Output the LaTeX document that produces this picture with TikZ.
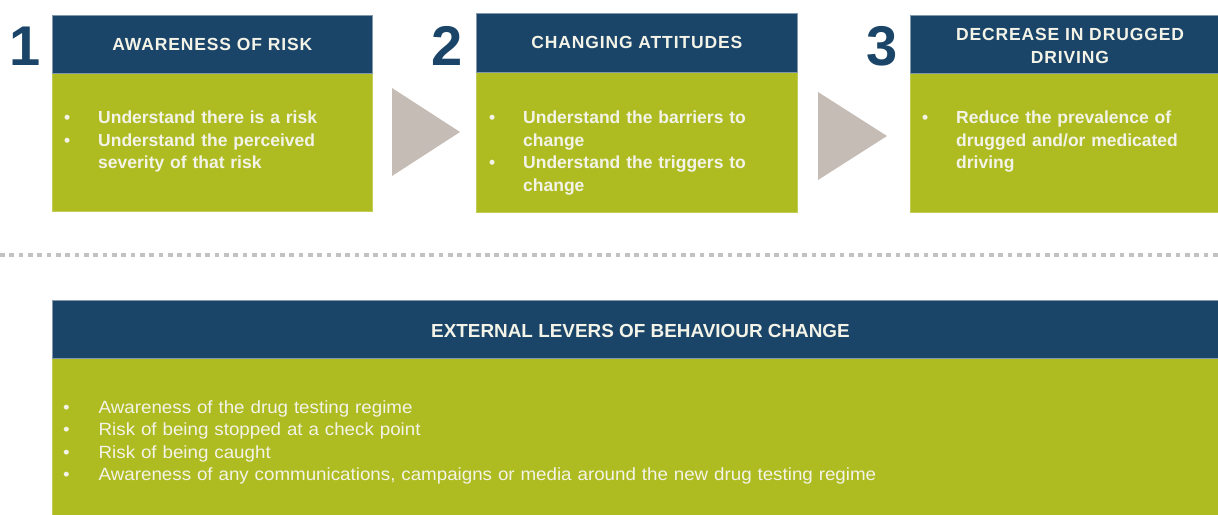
\documentclass[tikz,border=0pt]{standalone}
\usepackage{fontspec}
\setmainfont{Liberation Sans}
\newfontfamily\capsfont[LetterSpace=5]{Liberation Sans}
\newfontfamily\widefont[FakeStretch=1.06]{Liberation Sans}

\definecolor{navy}{HTML}{1B4568}
\definecolor{lime}{HTML}{AEBC21}
\definecolor{stone}{HTML}{C5BCB5}
\definecolor{ink}{HTML}{F3F3E8}
\definecolor{sepgray}{HTML}{C2C2C2}

% bullet item with a hanging indent; the rule fixes the first line's height
\newcommand\bitem[1]{\noindent\hangindent=#1\hangafter=1\rule{0pt}{14pt}\makebox[#1][l]{\hspace*{2pt}\textbullet}}

\tikzset{
  hdr/.style={fill=navy, draw=navy!55!white, line width=0.6pt, inner sep=0pt,
    anchor=north west, text=ink, align=center,
    font=\capsfont\bfseries\fontsize{17.5}{22.5}\selectfont},
  panel/.style={fill=lime, draw=lime!75!white, line width=0.6pt, inner sep=0pt,
    anchor=north west},
  bullets/.style={anchor=north west, inner sep=0pt, text=ink, text width=330pt,
    align=left, font=\bfseries\fontsize{17.5}{22.5}\selectfont},
  lightbullets/.style={bullets, text width=900pt,
    font=\widefont\fontsize{17.7}{22.4}\selectfont},
  num/.style={anchor=base, inner sep=0pt, text=navy,
    font=\bfseries\fontsize{56}{56}\selectfont},
  chevron/.style={fill=stone},
  seprule/.style={draw=sepgray, line width=3.2pt, dash pattern=on 4.7pt off 4.63pt},
}

\begin{document}
\begin{tikzpicture}[x=1pt, y=-1pt]
\useasboundingbox (0,0) rectangle (1218,514);
\clip (0,0) rectangle (1218,514);

% step numbers
\node[num] (n1) at (25,65) {1};
\node[num] (n2) at (447.5,65) {2};
\node[num] (n3) at (882,65) {3};

% step 1
\node[panel, minimum width=320pt, minimum height=138pt] (b1) at (52,73) {};
\node[hdr, minimum width=320pt, minimum height=58pt] (h1) at (52,15) {AWARENESS OF RISK};
\node[bullets] (t1) at (62,109.3) {%
  \bitem{36pt}Understand there is a risk\par
  \bitem{36pt}Understand the perceived\newline severity of that risk\par};

% step 2
\node[panel, minimum width=321pt, minimum height=140pt] (b2) at (476,72) {};
\node[hdr, minimum width=321pt, minimum height=59pt] (h2) at (476,13) {CHANGING ATTITUDES};
\node[bullets] (t2) at (487,109.3) {%
  \bitem{36pt}Understand the barriers to\newline change\par
  \bitem{36pt}Understand the triggers to\newline change\par};

% step 3
\node[panel, minimum width=320pt, minimum height=139pt] (b3) at (910,73) {};
\node[hdr, minimum width=320pt, minimum height=58pt] (h3) at (910,15) {};
\node[inner sep=0pt, text=ink, align=center,
  font=\capsfont\bfseries\fontsize{17.5}{22.5}\selectfont] (h3t) at (1070,46)
  {DECREASE IN DRUGGED\\DRIVING};
\node[bullets] (t3) at (920,109.3) {%
  \bitem{36pt}Reduce the prevalence of\newline drugged and/or medicated\newline driving\par};

% arrows between the steps
\fill[chevron] (392,88) -- (460,132) -- (392,176) -- cycle;
\fill[chevron] (818,92) -- (887,136) -- (818,180) -- cycle;

% dotted separator
\coordinate (sepL) at (0,255);
\coordinate (sepR) at (1218,255);
\draw[seprule] (sepL) -- (sepR);

% external levers
\node[panel, minimum width=1170pt, minimum height=160pt] (b4) at (52,358) {};
\node[hdr, minimum width=1170pt, minimum height=58pt, text width=1170pt] (h4) at (52,300) {};
\node[inner sep=0pt, text=ink, font=\bfseries\fontsize{18.9}{22}\selectfont] (h4t) at (640.5,330.5)
  {EXTERNAL LEVERS OF BEHAVIOUR CHANGE};
\node[lightbullets] (t4) at (61,399.3) {%
  \bitem{37.5pt}Awareness of the drug testing regime\par
  \bitem{37.5pt}Risk of being stopped at a check point\par
  \bitem{37.5pt}Risk of being caught\par
  \bitem{37.5pt}Awareness of any communications, campaigns or media around the new drug testing regime\par};
\end{tikzpicture}
\end{document}
